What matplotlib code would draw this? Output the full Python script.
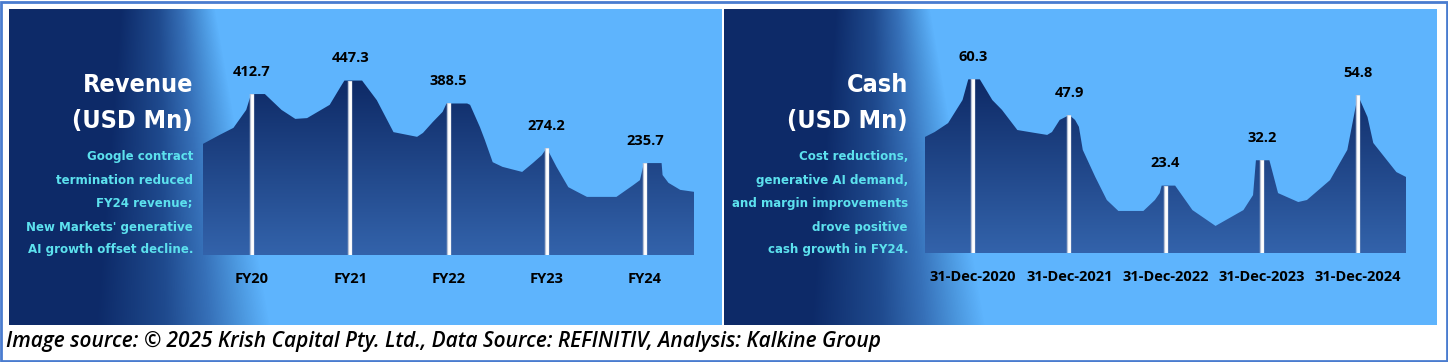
import os
import numpy as np
import matplotlib
matplotlib.use('Agg')
import matplotlib.pyplot as plt
from matplotlib import font_manager
from matplotlib.font_manager import FontProperties
from matplotlib.colors import LinearSegmentedColormap
from matplotlib.patches import Polygon, Rectangle

# ---------------------------------------------------------------- data
rev_labels = ['FY20', 'FY21', 'FY22', 'FY23', 'FY24']
rev_values = [412.7, 447.3, 388.5, 274.2, 235.7]
# mountain outline (x in category units, y in USD Mn)
rev_shape_x = [-0.50, -0.33, -0.19, -0.06, -0.01, 0.13, 0.30, 0.44, 0.56, 0.79,
               0.90, 0.94, 1.12, 1.27, 1.44, 1.68, 1.74, 1.84, 1.94, 1.98,
               2.19, 2.22, 2.32, 2.37, 2.45, 2.55, 2.75, 2.86, 2.95, 3.00,
               3.10, 3.22, 3.31, 3.41, 3.71, 3.88, 3.95, 3.99, 4.17, 4.18,
               4.24, 4.36, 4.50]
rev_shape_y = [285, 308, 326, 372, 412.7, 412.7, 372, 349, 351, 385,
               431, 447.3, 447.3, 397, 315, 303, 313, 341, 367, 388.5,
               388.5, 385, 328, 295, 238, 226, 213, 236, 256, 274.2,
               226, 174, 162, 149, 149, 179, 192, 235.7, 235.7, 205,
               185, 167, 162]

cash_labels = ['31-Dec-2020', '31-Dec-2021', '31-Dec-2022', '31-Dec-2023', '31-Dec-2024']
cash_values = [60.3, 47.9, 23.4, 32.2, 54.8]
cash_shape_x = [-0.50, -0.40, -0.26, -0.11, -0.05, 0.07, 0.20, 0.30, 0.46, 0.64,
                0.77, 0.82, 0.90, 1.00, 1.06, 1.10, 1.14, 1.27, 1.39, 1.51,
                1.77, 1.89, 1.94, 1.96, 2.10, 2.28, 2.52, 2.81, 2.91, 2.94,
                3.08, 3.17, 3.38, 3.47, 3.71, 3.89, 4.00, 4.10, 4.16, 4.30,
                4.40, 4.50]
cash_shape_y = [40.3, 42.0, 45.1, 53.1, 60.3, 60.3, 53.1, 49.7, 42.7, 41.7,
                41.0, 42.0, 46.2, 47.9, 46.2, 43.8, 35.8, 26.4, 18.4, 14.6,
                14.6, 18.4, 20.8, 23.4, 23.4, 14.9, 9.4, 14.9, 20.1, 32.2,
                32.2, 20.8, 17.7, 18.4, 25.3, 35.8, 54.8, 47.2, 38.2, 32.3,
                28.1, 26.4]

rev_title = ['Revenue', '(USD Mn)']
rev_note = ['Google contract', 'termination reduced', 'FY24 revenue;',
            "New Markets' generative", 'AI growth offset decline.']
cash_title = ['Cash', '(USD Mn)']
cash_note = ['Cost reductions,', 'generative AI demand,', 'and margin improvements',
             'drove positive', 'cash growth in FY24.']
footer = ('Image source: \u00a9 2025 Krish Capital Pty. Ltd., Data Source: REFINITIV, '
          'Analysis: Kalkine Group')

# ---------------------------------------------------------------- fonts
# the side texts use a condensed face (Agency FB look-alike) when one is installed
wanted = ['NotoSans-ExtraCondensedBold', 'NotoSans-CondensedBold',
          'DejaVuSansCondensed-Bold', 'LiberationSansNarrow-Bold',
          'RobotoCondensed-Bold', 'NotoSans-SemiCondensedBold']
found = {os.path.splitext(os.path.basename(f.fname))[0]: f.fname
         for f in font_manager.fontManager.ttflist}
narrow_file = next((found[w] for w in wanted if w in found), None)


def narrow_font():
    if narrow_file:
        return FontProperties(fname=narrow_file)
    return FontProperties(family='Roboto', weight='bold')


LABEL = ['Open Sans', 'DejaVu Sans']

# ---------------------------------------------------------------- style
W, H = 1448, 362
DARK = '#0D2A68'
LIGHT = '#5EB4FD'
CYAN = '#5CE1EE'

panel_cmap = LinearSegmentedColormap.from_list(
    'panel', [(0, DARK), (0.4, '#1F4A8E'), (0.65, '#3670B8'),
              (0.85, '#4C98DF'), (1, LIGHT)])
area_cmap = LinearSegmentedColormap.from_list('area', ['#3363AB', '#0E2A66'])


def px(x, y):
    """pixel position -> figure fraction"""
    return x / W, 1 - y / H


def fit_width(fig, t, target):
    """scale a text's font size so it spans target pixels"""
    w = t.get_window_extent(fig.canvas.get_renderer()).width
    return t.get_fontsize() * target / w


def panel(fig, left, top, right, bottom):
    w, h = right - left, bottom - top
    ax = fig.add_axes([left / W, 1 - bottom / H, w / W, h / H])
    # dark-to-light blend that widens towards the bottom of the panel
    yy = np.linspace(0, 1, h)[:, None]
    start = 111 - 25 * yy
    end = 206 + 55 * yy
    shade = np.clip((np.arange(w)[None, :] - start) / (end - start), 0, 1)
    ax.imshow(shade, cmap=panel_cmap, aspect='auto', extent=[0, 1, 0, 1],
              interpolation='bilinear')
    ax.set_axis_off()
    return ax


def mountain(fig, rect, labels, values, sx, sy, ytop):
    ax = fig.add_axes(rect)
    ax.set_xlim(-0.5, 4.5)
    ax.patch.set_alpha(0)
    for s in ax.spines.values():
        s.set_visible(False)
    ax.set_yticks([])

    outline = np.column_stack([[sx[0]] + sx + [sx[-1]], [0] + sy + [0]])
    poly = Polygon(outline, closed=True, transform=ax.transData, facecolor='none',
                   edgecolor='none')
    ax.add_patch(poly)
    grad = ax.imshow(np.linspace(0, 1, 256)[:, None], cmap=area_cmap, origin='lower',
                     aspect='auto', extent=[-0.5, 4.5, 0, max(values)])
    grad.set_clip_path(poly)

    pos = np.arange(len(values))
    ax.vlines(pos, 0, values, colors='#B8C2D6', lw=3.2)
    ax.vlines(pos, 0, values, colors='white', lw=2.0)

    for x, v in zip(pos, values):
        ax.annotate(f'{v:.1f}', (x, v), xytext=(0, 16), textcoords='offset points',
                    ha='center', va='center', fontsize=10.5, fontweight='bold',
                    family=LABEL, color='black')

    ax.set_xticks(pos, labels)
    ax.tick_params(axis='x', length=0, pad=12)
    for t in ax.get_xticklabels():
        t.set_fontsize(10.5)
        t.set_fontweight('bold')
        t.set_family(LABEL)
    ax.set_xlim(-0.5, 4.5)
    ax.set_ylim(0, ytop)
    return ax


def side_text(fig, xr, title, note, title_size, note_size):
    for line, y in zip(title, [85, 121]):
        fig.text(*px(xr, y), line, ha='right', va='center', color='white',
                 fontproperties=narrow_font(), fontsize=title_size)
    for line, y in zip(note, [157, 180, 204, 227, 250]):
        fig.text(*px(xr, y), line, ha='right', va='center', color=CYAN,
                 fontproperties=narrow_font(), fontsize=note_size)


fig = plt.figure(figsize=(W / 100, H / 100), dpi=100)
fig.patch.set_facecolor('white')

panel(fig, 9, 9, 722, 325)
panel(fig, 724, 9, 1437, 325)

mountain(fig, [203 / W, 1 - 255 / H, 491 / W, 245 / H],
         rev_labels, rev_values, rev_shape_x, rev_shape_y, 245 / 0.39)
mountain(fig, [925 / W, 1 - 253 / H, 481 / W, 243 / H],
         cash_labels, cash_values, cash_shape_x, cash_shape_y, 243 / 2.88)

# size the side texts so the longest lines still fit inside the panels
probe = fig.text(0, 0, rev_title[1], fontproperties=narrow_font(), fontsize=20)
title_size = fit_width(fig, probe, 120)
probe.set_text(cash_note[2])
note_size = fit_width(fig, probe, 176)
probe.remove()

side_text(fig, 193, rev_title, rev_note, title_size, note_size)
side_text(fig, 908, cash_title, cash_note, title_size, note_size)

foot = fig.text(*px(6, 342), footer, ha='left', va='center', fontsize=14,
                style='italic', fontweight='semibold', family=LABEL, color='black')
foot.set_fontsize(fit_width(fig, foot, 878))

fig.patches.append(Rectangle((1 / W, 1 / H), 1 - 2 / W, 1 - 3 / H,
                             transform=fig.transFigure, fill=False,
                             edgecolor='#4A7CCF', lw=2, figure=fig))

fig.savefig('out.png', dpi=100)
